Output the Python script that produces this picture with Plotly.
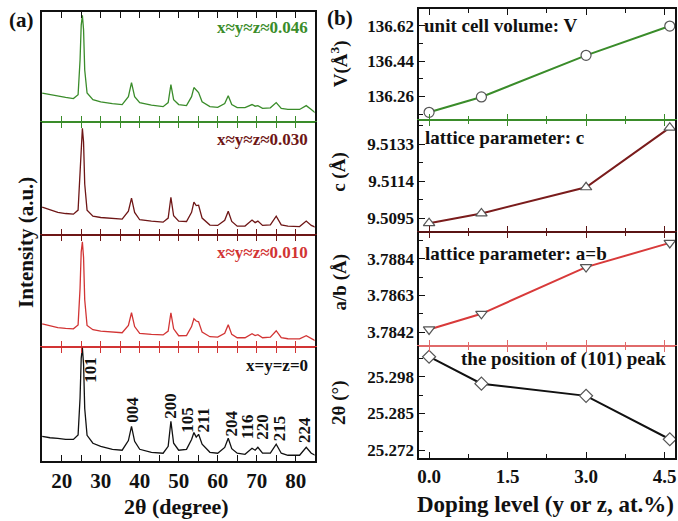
import plotly.graph_objects as go

W, H = 678, 521
FONT = "Liberation Serif"

# ---------------- data: XRD patterns (left panel) ----------------
two_theta = [15, 17, 19, 21, 23, 24.2, 24.7, 25.0, 25.3, 25.6, 25.9, 26.5, 28, 30, 33, 35.5,
             37.1, 37.9, 38.7, 40, 43, 46, 47.3, 48.0, 48.7, 50, 52, 53.3, 53.9, 54.5, 55.1,
             56, 58, 60, 61.8, 62.7, 63.6, 65, 67, 68.8, 69.6, 70.3, 71.5, 73.5, 75.0, 76.3,
             78, 81, 82.7, 84, 85]
I_0046 = [26, 24.5, 23.6, 22, 21, 24.5, 56, 88, 97, 84, 47, 26, 20, 18, 16.4, 15.5,
          22.7, 35.5, 22.7, 17.3, 15, 13.6, 17.3, 33.6, 20, 15.5, 14.5, 22.7, 31, 29, 26.4,
          18, 13.6, 13, 16.4, 23.6, 15.5, 12.7, 12.7, 15.5, 14, 14.5, 12, 12.5, 17.3, 12,
          11, 11, 14.5, 11, 8]
I_0030 = [24.6, 22, 20, 19, 18.4, 22, 55, 86, 94, 82, 45, 22, 16.7, 15.5, 14.5, 14,
          21, 32.5, 20, 13.5, 12.3, 11.4, 15, 33.3, 17, 12.3, 12, 20, 29, 26, 26.3,
          15, 8.8, 8.5, 13, 21, 12, 7.9, 8, 13.2, 11, 12.3, 8.5, 9, 16.7, 9,
          7.9, 7.5, 12.3, 8.5, 7]
I_0010 = [20.5, 18.5, 17, 16.3, 16, 19.5, 52, 85, 94, 80, 42, 19, 15.2, 14, 13, 12.5,
          19, 30.4, 18, 12, 11, 10.5, 14, 30.4, 16, 9.8, 10, 18, 25, 23, 22.3,
          13, 8.9, 8.5, 12, 19.6, 11, 8, 8, 11.6, 10, 10.7, 8, 8.5, 14.3, 8,
          7.1, 7, 9.8, 7, 5.4]
I_0000 = [21.7, 20.5, 20, 19, 19, 23, 55, 90, 99, 85, 46, 22.6, 15.7, 13, 10.4, 9.6,
          18, 30.4, 17.4, 10.4, 7.8, 7, 13, 34.8, 15.7, 9.6, 10.4, 19, 25, 21, 23.5,
          14.8, 7.8, 7, 12, 20, 11, 7, 6, 11.3, 9.6, 12.2, 7, 7, 14.8, 7,
          5.2, 5.2, 12.2, 7, 5.2]
patterns = [I_0046, I_0030, I_0010, I_0000]
comp_labels = ["x≈y≈z≈0.046", "x≈y≈z≈0.030", "x≈y≈z≈0.010", "x=y=z=0"]

peak_labels = ["101", "004", "200", "105", "211", "204", "116", "220", "215", "224"]
peak_label_x = [27.3, 38.3, 47.9, 52.3, 56.6, 63.4, 67.7, 71.5, 75.7, 82.3]
peak_label_y = [80, 45, 48, 36, 36, 33, 30.5, 29.6, 28.7, 27]

# ---------------- data: lattice parameters (right panel) ----------------
doping = [0.0, 1.0, 3.0, 4.6]
V_cell = [136.179, 136.257, 136.469, 136.618]
c_par = [9.50924, 9.50974, 9.51109, 9.51416]
ab_par = [3.78435, 3.78525, 3.78793, 3.78932]
pos101 = [25.305, 25.2955, 25.2912, 25.2759]

right_series = [V_cell, c_par, ab_par, pos101]
right_ranges = [[136.142, 136.705], [9.50878, 9.51458], [3.78342, 3.78994], [25.2692, 25.3089]]
right_tick0 = [136.26, 9.5095, 3.7842, 25.272]
right_dtick = [0.18, 0.0019, 0.0021, 0.013]
right_titles = ["V(Å<sup>3</sup>)", "c (Å)", "a/b (Å)", "2θ (°)"]
right_texts = ["unit cell volume: V", "lattice parameter: c", "lattice parameter: a=b",
               "the position of (101) peak"]
right_symbols = ["circle", "triangle-up", "triangle-down", "diamond"]

GREEN = "#3a8c2a"
DRED = "#6e1616"
RED = "#d23434"
BLACK = "#111111"
left_cols = [GREEN, DRED, RED, BLACK]
left_top = [BLACK, GREEN, DRED, RED]
right_cols = [GREEN, "#7a1c1c", "#d83a3a", BLACK]
right_sep = [GREEN, "#5a1414", "#e06a6a", BLACK]
right_topc = [BLACK, GREEN, "#5a1414", "#e06a6a"]

fx = lambda p: p / W
fy = lambda p: 1 - p / H

left_edges = [12, 122, 236, 348, 463]
right_edges = [9, 120, 233, 347, 460]
LX = [fx(40), fx(314)]
RX = [fx(419), fx(676)]
XR_L = [14.9, 84.85]
XR_R = [-0.19, 4.70]

fig = go.Figure()
layout = {}
tickfont_left = dict(family=FONT, size=21, color=BLACK, weight="bold")
tickfont_right = dict(family=FONT, size=19, color=BLACK, weight="bold")

def xname(n):
    return "xaxis" if n == 1 else f"xaxis{n}"

def yname(n):
    return "yaxis" if n == 1 else f"yaxis{n}"

def ref(prefix, n):
    return prefix if n == 1 else f"{prefix}{n}"

def lw(is_outer):
    return 1.5 if is_outer else 1.0

# ---- left panels ----
for i in range(4):
    n = i + 1
    fig.add_trace(go.Scatter(x=two_theta, y=patterns[i], mode="lines",
                             line=dict(color=left_cols[i], width=1.3),
                             xaxis=ref("x", n), yaxis=ref("y", n), showlegend=False))
    layout[xname(n)] = dict(type="linear", domain=LX, anchor=ref("y", n), range=XR_L,
                            side="bottom", showline=True, linecolor=left_cols[i],
                            linewidth=lw(n == 4),
                            ticks="inside", ticklen=6, tickwidth=1.3, tickcolor=left_cols[i],
                            dtick=10, tick0=0, showgrid=False, zeroline=False,
                            minor=dict(dtick=5, ticks="inside", ticklen=6, tickwidth=1.3,
                                       tickcolor=left_cols[i], showgrid=False),
                            showticklabels=(n == 4), tickfont=tickfont_left)
    layout[yname(n)] = dict(type="linear", domain=[fy(left_edges[i + 1]), fy(left_edges[i])],
                            anchor=ref("x", n), range=[0, 100], showline=True,
                            linecolor=BLACK, linewidth=1.5, mirror=True, ticks="",
                            showticklabels=False, showgrid=False, zeroline=False)
    m = 8 + n
    fig.add_trace(go.Scatter(x=[None], y=[None], xaxis=f"x{m}", yaxis=ref("y", n),
                             showlegend=False, hoverinfo="skip"))
    layout[f"xaxis{m}"] = dict(type="linear", overlaying=ref("x", n), anchor=ref("y", n),
                               side="top", range=XR_L, showline=True, linecolor=left_top[i],
                               linewidth=lw(n == 1),
                               ticks="inside", ticklen=6, tickwidth=1.3, tickcolor=left_top[i],
                               dtick=10, tick0=0, showgrid=False, zeroline=False,
                               minor=dict(dtick=5, ticks="inside", ticklen=6, tickwidth=1.3,
                                          tickcolor=left_top[i], showgrid=False),
                               showticklabels=False)

# ---- right panels ----
for i in range(4):
    n = 4 + i + 1
    fig.add_trace(go.Scatter(x=doping, y=right_series[i], mode="lines+markers",
                             line=dict(color=right_cols[i], width=2),
                             marker=dict(symbol=right_symbols[i], size=10, color="white",
                                         line=dict(color="#555555", width=1.2)),
                             xaxis=ref("x", n), yaxis=ref("y", n), showlegend=False,
                             cliponaxis=False))
    layout[xname(n)] = dict(type="linear", domain=RX, anchor=ref("y", n), range=XR_R,
                            side="bottom", showline=True, linecolor=right_sep[i],
                            linewidth=lw(i == 3),
                            ticks="inside", ticklen=6, tickwidth=1.3, tickcolor=right_sep[i],
                            dtick=1.5, tick0=0, tickformat=".1f", showgrid=False, zeroline=False,
                            minor=dict(dtick=0.75, ticks="inside", ticklen=4, tickwidth=1.3,
                                       tickcolor=right_sep[i], showgrid=False),
                            showticklabels=(i == 3), tickfont=tickfont_right)
    layout[yname(n)] = dict(type="linear", domain=[fy(right_edges[i + 1]), fy(right_edges[i])],
                            anchor=ref("x", n), range=right_ranges[i], showline=True,
                            linecolor=BLACK, linewidth=1.5, mirror=True,
                            ticks="inside", ticklen=6, tickwidth=1.3, tickcolor=BLACK,
                            tick0=right_tick0[i], dtick=right_dtick[i],
                            minor=dict(dtick=right_dtick[i] / 2, ticks="inside", ticklen=4,
                                       tickwidth=1.2, tickcolor=BLACK, showgrid=False),
                            showgrid=False, zeroline=False,
                            tickfont=dict(family=FONT, size=17, color=BLACK, weight="bold"))
    m = 12 + i + 1
    fig.add_trace(go.Scatter(x=[None], y=[None], xaxis=f"x{m}", yaxis=ref("y", n),
                             showlegend=False, hoverinfo="skip"))
    layout[f"xaxis{m}"] = dict(type="linear", overlaying=ref("x", n), anchor=ref("y", n),
                               side="top", range=XR_R, showline=True, linecolor=right_topc[i],
                               linewidth=lw(i == 0),
                               ticks="inside", ticklen=6, tickwidth=1.3, tickcolor=right_topc[i],
                               dtick=1.5, tick0=0, showgrid=False, zeroline=False,
                               minor=dict(dtick=0.75, ticks="inside", ticklen=4, tickwidth=1.3,
                                          tickcolor=right_topc[i], showgrid=False),
                               showticklabels=False)

ann = []
def A(text, x, y, size, color=BLACK, xref="paper", yref="paper", xanchor="center",
      yanchor="middle", angle=0):
    ann.append(dict(text=text, x=x, y=y, xref=xref, yref=yref, xanchor=xanchor,
                    yanchor=yanchor, textangle=angle, showarrow=False,
                    font=dict(family=FONT, size=size, color=color, weight="bold")))

comp_y = [85.5, 84, 84, 83.5]
for i in range(4):
    n = i + 1
    A(comp_labels[i], 83.6, comp_y[i], 17, left_cols[i], xref=ref("x", n), yref=ref("y", n),
      xanchor="right")
for t, x, y in zip(peak_labels, peak_label_x, peak_label_y):
    A(t, x, y, 17, BLACK, xref="x4", yref="y4", angle=-90)

A(right_texts[0], -0.13, 136.62, 19, BLACK, xref="x5", yref="y5", xanchor="left")
A(right_texts[1], -0.11, 9.51366, 19, BLACK, xref="x6", yref="y6", xanchor="left")
A(right_texts[2], -0.11, 3.78869, 19, BLACK, xref="x7", yref="y7", xanchor="left")
A(right_texts[3], 4.56, 25.3042, 19, BLACK, xref="x8", yref="y8", xanchor="right")

A("Intensity (a.u.)", fx(24), fy(243), 21, angle=-90)
A("2θ (degree)", fx(175), fy(508), 22)
A("Doping level (y or z, at.%)", fx(546), fy(506), 23)
right_title_y = [64, 173, 284, 405]
for t, yy in zip(right_titles, right_title_y):
    A(t, fx(339), fy(yy), 19, angle=-90)
A("(a)", fx(20), fy(20), 21)
A("(b)", fx(340), fy(18), 21)

fig.update_layout(width=W, height=H, margin=dict(l=0, r=0, t=0, b=0),
                  paper_bgcolor="white", plot_bgcolor="white",
                  font=dict(family=FONT, color=BLACK, weight="bold"),
                  annotations=ann, showlegend=False, **layout)

fig.write_html("out.html", config={"displayModeBar": False},
               post_script="document.body.style.margin='0px';document.body.style.overflow='hidden';")
